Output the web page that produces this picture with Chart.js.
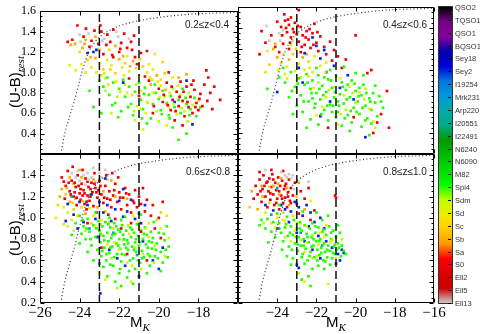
<!DOCTYPE html>
<html>
<head>
<meta charset="utf-8">
<script src="https://cdn.jsdelivr.net/npm/chart.js@4"></script>
<style>
  body { margin: 0; background: #fff; }
  #wrap { position: relative; width: 480px; height: 334px; overflow: hidden; background: #fff; }
  #wrap canvas { position: absolute; left: 0; top: 0; }
  .zlab { position: absolute; font: 10px "Liberation Sans", Arial, sans-serif; color: #222; white-space: nowrap; transform: translate(-50%, -50%); }
  .ylab { position: absolute; font: 15px "Liberation Sans", Arial, sans-serif; color: #000; white-space: nowrap; transform: translate(-50%, -50%) rotate(-90deg); }
  .xlab { position: absolute; font: 15px "Liberation Sans", Arial, sans-serif; color: #000; white-space: nowrap; transform: translateX(-50%); }
  .sub { font: italic 11px "Liberation Serif", serif; position: relative; top: 4px; }
  #cbar { position: absolute; left: 438px; top: 6px; width: 13px; height: 296px; border: 1px solid #333; }
  .cblab { position: absolute; left: 455px; font: 7.5px "Liberation Sans", Arial, sans-serif; color: #333; white-space: nowrap; transform: translateY(-50%); }
  .cbtick { position: absolute; left: 448px; width: 3px; height: 1px; background: #000; }
</style>
</head>
<body>
<div id="wrap">
  <canvas id="p1" width="480" height="334"></canvas>
  <canvas id="p2" width="480" height="334"></canvas>
  <canvas id="p3" width="480" height="334"></canvas>
  <canvas id="p4" width="480" height="334"></canvas>
  <div class="zlab" style="left:207px;top:24px">0.2≤z&lt;0.4</div>
  <div class="zlab" style="left:405px;top:24px">0.4≤z&lt;0.6</div>
  <div class="zlab" style="left:208px;top:171px">0.6≤z&lt;0.8</div>
  <div class="zlab" style="left:405px;top:171px">0.8≤z≤1.0</div>
  <div class="ylab" style="left:14px;top:82px">(U-B)<span class="sub">rest</span></div>
  <div class="ylab" style="left:14px;top:230px">(U-B)<span class="sub">rest</span></div>
  <div class="xlab" style="left:140px;top:313px">M<span class="sub">K</span></div>
  <div class="xlab" style="left:336px;top:313px">M<span class="sub">K</span></div>
  <div id="cbar"></div>
</div>
<script>
// Plantillas SED (de arriba a abajo en la barra de color)
const templates = ['QSO2','TQSO1','QSO1','BQSO1','Sey18','Sey2','I19254','Mrk231','Arp220','I20551','I22491','N6240','N6090','M82','Spi4','Sdm','Sd','Sc','Sb','Sa','S0','Ell2','Ell5','Ell13'];

// Rangos de redshift de cada panel
const zLabels = ['0.2≤z<0.4', '0.4≤z<0.6', '0.6≤z<0.8', '0.8≤z≤1.0'];

// Marcas de los ejes
const magTicks = [-26, -24, -22, -20, -18, -16];
const colorTicks = [0.2, 0.4, 0.6, 0.8, 1.0, 1.2, 1.4, 1.6];

// Cortes en magnitud (lineas discontinuas)
const cutMags = [-23, -21];

// Curva punteada (limite de seleccion)
const curveMag = [-24.95, -24.75, -24.5, -24.28, -24.05, -23.84, -23.56, -23.3, -22.97, -22.3, -21.6, -20.95, -19.3, -18.0, -16.25, -16.0];
const curveUB  = [0.2, 0.4, 0.57, 0.71, 0.88, 1.03, 1.19, 1.28, 1.35, 1.43, 1.48, 1.51, 1.555, 1.575, 1.587, 1.59];

// Galaxias: [M_K, (U-B)rest, indice de plantilla]
const z1 = [
  [-24.11,1.46,20],[-23.68,1.43,20],[-24.37,1.32,20],[-24.23,1.28,18],[-23.95,1.30,23],[-23.8,1.35,20],[-23.55,1.38,23],[-23.4,1.31,20],[-23.2,1.35,18],[-23.05,1.28,20],
  [-22.9,1.40,20],[-22.75,1.33,23],[-22.6,1.37,20],[-22.45,1.30,20],[-22.3,1.42,20],[-22.2,1.26,18],[-22.05,1.35,23],[-21.9,1.29,20],[-21.75,1.38,20],[-21.6,1.24,20],
  [-21.5,1.33,23],[-21.35,1.22,20],[-23.6,1.19,5],[-23.3,1.20,5],[-23.15,1.22,5],[-24.0,1.20,17],[-23.85,1.24,18],[-23.5,1.25,20],[-23.0,1.22,18],[-22.8,1.18,20],
  [-22.5,1.22,17],[-22.35,1.17,20],[-22.0,1.20,20],[-21.8,1.16,18],[-21.2,1.15,20],[-20.9,1.19,20],[-20.6,1.21,20],[-24.6,1.30,20],[-24.45,1.27,18],[-23.7,1.32,18],
  [-22.95,1.46,20],[-22.15,1.40,23],[-21.25,1.36,20],
  [-24.2,1.02,16],[-23.9,1.08,16],[-23.6,1.12,17],[-23.4,1.05,16],[-23.2,1.14,18],[-23.0,1.09,16],[-22.8,1.03,17],[-22.6,1.12,16],[-22.4,1.07,16],[-22.2,0.99,17],
  [-22.0,1.13,18],[-21.85,1.05,16],[-21.7,1.09,17],[-21.5,1.01,16],[-21.3,1.11,18],[-21.15,1.04,16],[-21.0,0.97,16],[-20.8,1.06,17],[-20.6,1.00,16],[-20.45,0.95,17],
  [-20.3,1.03,16],[-20.1,0.97,18],[-19.9,0.93,16],[-19.7,0.99,17],[-23.7,1.00,15],[-22.9,0.97,15],[-21.6,1.16,16],[-20.95,1.13,17],[-20.2,1.18,16],[-22.3,1.15,20],
  [-21.1,1.08,20],[-19.5,1.00,20],[-19.3,0.95,16],[-24.5,1.07,16],[-22.7,0.94,16],
  [-23.0,0.92,14],[-22.8,0.86,14],[-22.6,0.95,14],[-22.5,0.78,14],[-22.3,0.90,14],[-22.2,0.70,14],[-22.0,0.84,14],[-21.9,0.62,14],[-21.8,0.93,14],[-21.7,0.76,14],
  [-21.5,0.86,14],[-21.4,0.69,14],[-21.3,0.58,14],[-21.2,0.81,14],[-21.0,0.90,14],[-20.9,0.73,14],[-20.8,0.64,14],[-20.7,0.85,14],[-20.5,0.78,14],[-20.4,0.55,14],
  [-20.3,0.69,14],[-20.2,0.88,14],[-20.0,0.74,14],[-19.9,0.63,14],[-19.8,0.82,14],[-19.6,0.70,14],[-19.5,0.58,14],[-19.4,0.77,14],[-19.2,0.66,14],[-19.0,0.73,14],
  [-18.9,0.60,14],[-18.8,0.84,14],[-18.6,0.69,14],[-18.4,0.64,14],[-18.2,0.75,14],[-18.1,0.57,14],[-23.3,0.66,14],[-22.9,0.60,14],[-20.6,0.50,14],[-19.3,0.46,14],
  [-18.6,0.40,14],[-19.0,0.34,14],[-23.5,0.82,14],[-17.9,0.66,14],
  [-22.7,0.82,15],[-22.1,0.76,15],[-21.6,0.80,16],[-21.1,0.67,15],[-20.9,0.82,16],[-20.6,0.71,15],[-20.3,0.80,16],[-20.1,0.62,15],[-19.9,0.87,16],[-19.7,0.76,15],
  [-19.5,0.66,16],[-19.3,0.84,15],[-19.1,0.59,16],[-18.9,0.78,15],[-18.7,0.62,16],[-18.5,0.80,15],[-18.3,0.68,16],[-22.4,0.60,15],[-21.2,0.53,16],[-20.0,0.52,15],
  [-19.6,0.48,16],[-20.8,0.44,15],[-21.7,0.88,16],[-18.0,0.72,16],
  [-20.0,0.84,20],[-19.8,0.71,20],[-19.6,0.90,20],[-19.4,0.63,20],[-19.3,0.73,20],[-19.1,0.81,20],[-19.0,0.67,20],[-18.9,0.91,20],[-18.8,0.72,20],[-18.7,0.57,20],
  [-18.6,0.86,20],[-18.5,0.66,20],[-18.4,0.76,20],[-18.3,0.60,20],[-18.2,0.83,20],[-18.1,0.70,20],[-18.0,0.63,20],[-17.9,0.79,20],[-17.8,0.67,20],[-17.7,0.88,20],
  [-17.5,0.95,20],[-17.4,0.80,20],[-17.3,0.64,20],[-16.9,0.73,20],[-17.6,1.02,20],[-20.5,0.92,20],[-21.0,0.77,20],[-20.3,0.60,20],[-19.2,0.53,20],[-20.7,0.96,20],
  [-21.5,0.94,20],[-18.8,0.48,20],
  [-21.8,0.90,5],[-19.2,0.71,5],[-18.3,0.49,5],[-18.6,0.92,5],[-20.4,0.88,18],[-19.0,0.95,18],[-18.6,0.98,18],
  [-19.75,0.78,20],[-19.55,0.68,20],[-19.35,0.86,20],[-19.15,0.62,20],[-18.95,0.76,20],[-18.75,0.81,20],[-18.55,0.71,20],[-18.35,0.88,20],[-18.15,0.66,20],[-17.95,0.74,20],
  [-19.45,0.80,16],[-19.25,0.69,15],[-19.05,0.87,16],[-18.85,0.65,15],[-18.65,0.75,14],[-18.45,0.58,14],[-20.15,0.80,14],[-20.35,0.93,15],[-20.55,0.70,16],[-20.75,0.79,14],
  [-20.95,0.64,16],[-21.15,0.88,15],[-21.35,0.78,16],[-21.55,0.66,14],[-21.75,0.97,16],[-21.95,0.81,15],[-22.15,0.91,16],[-22.35,0.68,14],[-22.55,0.88,16],[-22.75,0.99,16],
  [-20.05,0.91,16],[-19.85,0.59,14],[-19.65,0.83,18],[-19.95,0.76,16],[-20.65,0.60,16],[-21.25,0.62,15],[-22.05,0.56,14],[-23.15,1.00,16],[-22.45,1.03,17],[-21.45,1.06,18],
  [-20.5,1.08,16],[-19.8,1.10,17],[-23.45,1.15,18],[-22.65,1.27,20],[-22.85,1.31,23],[-23.25,1.41,20],[-21.95,1.23,20],[-21.4,1.30,20],[-24.0,1.37,23],[-23.75,1.28,18],
  [-17.55,0.72,20],[-17.2,0.86,20],[-18.25,0.92,20],[-20.25,0.67,20],[-18.55,0.52,15],[-19.45,0.55,14],[-20.85,0.55,14]
];

const z2 = [
  [-23.64,1.53,20],[-22.9,1.57,20],[-24.0,1.46,20],[-23.8,1.41,20],[-23.6,1.47,20],[-23.5,1.36,20],[-23.4,1.43,20],[-23.3,1.31,20],[-23.2,1.39,20],[-23.1,1.45,20],
  [-23.0,1.34,20],[-22.9,1.27,20],[-22.8,1.41,20],[-22.7,1.33,20],[-22.6,1.24,20],[-22.5,1.37,20],[-22.4,1.29,20],[-22.3,1.21,20],[-22.2,1.35,20],[-22.0,1.26,20],
  [-21.9,1.18,20],[-21.8,1.32,20],[-21.6,1.22,20],[-21.5,1.15,20],[-21.3,1.27,20],[-21.1,1.19,20],[-20.9,1.13,20],[-24.3,1.33,20],[-24.6,1.26,20],[-24.1,1.22,20],
  [-23.9,1.17,20],[-23.7,1.25,20],[-23.4,1.20,20],[-22.8,1.17,20],[-20.0,1.33,20],[-22.1,1.44,20],[-23.3,1.50,20],[-24.8,1.37,20],[-21.2,1.09,20],[-20.7,1.02,20],
  [-24.4,1.28,23],[-24.55,1.42,23],[-23.9,1.35,23],[-23.2,1.28,23],[-23.7,1.38,23],
  [-24.2,1.20,18],[-24.0,1.12,18],[-23.8,1.07,17],[-23.7,1.15,16],[-23.5,1.03,16],[-23.4,1.10,18],[-23.2,1.15,17],[-23.1,0.99,16],[-22.9,1.06,16],[-22.7,1.12,18],
  [-22.6,1.00,16],[-22.4,1.08,17],[-22.2,0.98,16],[-22.1,1.13,16],[-24.4,1.05,17],[-23.6,0.96,16],[-22.8,0.93,15],[-24.1,1.25,18],[-22.5,1.15,18],[-21.8,1.04,16],
  [-21.5,1.07,16],[-23.3,1.24,17],[-24.9,1.15,20],[-24.5,1.18,16],
  [-22.2,1.31,5],[-22.0,1.23,5],[-22.6,1.16,5],[-21.8,1.11,5],[-21.5,0.98,5],[-21.1,1.04,5],[-22.9,1.02,5],[-20.4,0.95,5],[-24.0,0.79,5],[-21.8,0.56,5],
  [-19.5,0.36,5],[-20.8,0.83,5],[-21.3,0.70,5],[-22.7,0.88,5],[-20.1,0.72,5],[-21.6,1.19,5],
  [-23.9,0.93,14],[-23.6,0.88,14],[-23.3,0.98,14],[-23.1,0.84,14],[-22.9,0.92,14],[-22.8,0.76,14],[-22.6,0.86,14],[-22.5,0.96,14],[-22.4,0.70,14],[-22.3,0.82,14],
  [-22.2,0.90,14],[-22.1,0.64,14],[-22.0,0.78,14],[-21.9,0.95,14],[-21.8,0.72,14],[-21.7,0.85,14],[-21.6,0.62,14],[-21.5,0.79,14],[-21.4,0.91,14],[-21.3,0.67,14],
  [-21.2,0.83,14],[-21.1,0.74,14],[-21.0,0.94,14],[-20.9,0.60,14],[-20.8,0.77,14],[-20.7,0.88,14],[-20.6,0.68,14],[-20.5,0.81,14],[-20.4,0.57,14],[-20.3,0.74,14],
  [-20.2,0.90,14],[-20.1,0.64,14],[-20.0,0.80,14],[-19.9,0.70,14],[-19.8,0.58,14],[-19.7,0.76,14],[-19.6,0.86,14],[-19.5,0.66,14],[-19.4,0.54,14],[-19.3,0.73,14],
  [-19.2,0.62,14],[-19.0,0.69,14],[-18.9,0.56,14],[-18.8,0.75,14],[-22.7,0.60,14],[-22.3,0.53,14],[-21.9,0.48,14],[-21.4,0.52,14],[-20.7,0.47,14],[-20.2,0.50,14],
  [-19.7,0.46,14],[-19.2,0.49,14],[-23.4,0.74,14],[-23.0,0.66,14],[-22.0,1.02,14],[-21.3,1.00,14],[-20.6,1.03,14],[-20.0,0.97,14],[-19.6,0.95,14],[-21.0,0.55,14],
  [-20.3,0.42,14],[-22.5,0.45,14],[-19.0,0.85,14],[-18.6,0.64,14],[-22.2,0.73,14],[-21.6,0.93,14],[-20.9,0.70,14],[-20.4,0.86,14],[-21.2,0.60,14],[-19.8,0.83,14],
  [-23.7,1.02,14],[-24.5,0.82,14],[-19.3,0.38,14],[-23.2,0.58,14],
  [-21.9,0.88,15],[-21.5,0.74,16],[-21.1,0.84,15],[-20.8,0.92,16],[-20.6,0.76,15],[-20.3,0.84,16],[-20.0,0.69,15],[-19.8,0.79,16],[-19.5,0.82,15],[-19.3,0.63,16],
  [-20.5,0.62,15],[-21.7,0.65,16],[-22.4,0.94,16],[-23.0,0.79,15],[-22.0,0.57,16],[-19.1,0.51,15],[-20.9,0.48,16],[-23.5,0.92,16],[-24.6,0.98,15],[-19.0,0.45,16],
  [-18.4,0.80,20],[-18.3,0.45,20],[-18.9,0.50,20],[-19.2,1.00,20],[-19.4,0.97,20],[-18.7,0.58,20],[-19.1,0.40,20],[-20.1,0.55,20],[-21.4,0.45,20],[-20.5,1.10,20],
  [-23.75,1.33,20],[-23.55,1.40,20],[-23.35,1.26,20],[-23.15,1.36,20],[-22.95,1.42,20],[-22.75,1.22,20],[-22.55,1.31,20],[-22.35,1.39,20],[-22.15,1.24,20],[-21.95,1.36,20],
  [-23.45,1.48,20],[-23.85,1.28,23],[-23.05,1.20,17],[-23.95,1.00,16],[-22.35,1.02,16],
  [-22.45,0.88,14],[-22.25,0.78,14],[-22.05,0.68,14],[-21.85,0.82,14],[-21.65,0.76,14],[-21.45,0.66,14],[-21.25,0.90,14],[-21.05,0.79,14],[-20.85,0.66,14],[-20.65,0.84,14],
  [-20.45,0.72,14],[-20.25,0.61,14],[-20.05,0.87,14],[-19.85,0.75,14],[-19.65,0.64,14],[-19.45,0.78,14],[-19.25,0.70,14],[-21.75,0.58,14],[-21.15,0.66,14],[-20.55,0.54,14],
  [-19.95,0.60,14],[-22.65,0.70,14],[-22.95,0.87,14],[-23.25,0.80,14],[-20.15,0.78,15],[-20.75,0.58,16],[-21.35,0.81,15],[-22.15,0.83,16],[-19.55,0.72,15],[-21.55,0.98,16],
  [-19.1,0.78,14],[-18.7,0.70,14],[-19.5,0.52,14]
];

const z3 = [
  [-24.9,1.38,20],[-24.7,1.30,20],[-24.6,1.44,20],[-24.5,1.25,20],[-24.4,1.35,20],[-24.3,1.20,20],[-24.2,1.29,20],[-24.1,1.40,20],[-24.0,1.23,20],[-23.95,1.17,20],
  [-23.9,1.32,20],[-23.8,1.26,20],[-23.75,1.13,20],[-23.7,1.37,20],[-23.6,1.21,20],[-23.55,1.29,20],[-23.5,1.16,20],[-23.4,1.33,20],[-23.35,1.24,20],[-23.3,1.11,20],
  [-23.2,1.28,20],[-23.1,1.19,20],[-23.0,1.35,20],[-22.9,1.22,20],[-22.8,1.14,20],[-22.7,1.30,20],[-22.6,1.18,20],[-22.5,1.25,20],[-22.4,1.10,20],[-22.3,1.21,20],
  [-22.2,1.32,20],[-22.1,1.15,20],[-22.0,1.24,20],[-21.9,1.08,20],[-21.8,1.19,20],[-21.7,1.28,20],[-21.6,1.12,20],[-21.5,1.22,20],[-21.4,1.05,20],[-21.3,1.16,20],
  [-21.2,1.26,20],[-21.1,1.10,20],[-21.0,1.20,20],[-20.9,1.13,20],[-20.7,1.06,20],[-20.6,1.17,20],[-20.4,1.02,20],[-20.3,1.12,20],[-19.8,1.15,20],[-24.35,1.48,20],
  [-23.85,1.45,20],[-23.25,1.42,20],[-22.65,1.40,20],[-22.05,1.38,20],[-24.75,1.18,20],[-24.15,1.12,20],[-23.65,1.08,20],[-23.15,1.05,20],[-22.55,1.03,20],[-24.55,1.33,20],
  [-24.25,1.24,20],[-23.85,1.21,20],[-23.45,1.27,20],[-23.05,1.26,20],[-24.05,1.30,20],[-23.6,1.34,20],[-20.0,1.00,20],[-20.8,1.28,20],[-22.35,1.42,20],
  [-24.2,1.38,23],[-24.0,1.35,23],[-23.8,1.40,23],[-23.6,1.42,23],[-23.4,1.38,23],[-23.2,1.34,23],[-22.9,1.38,23],[-23.7,1.31,23],[-24.4,1.42,23],[-23.0,1.42,23],
  [-22.7,1.45,23],[-23.3,1.47,23],[-22.6,1.36,23],
  [-25.0,1.20,18],[-24.8,1.10,16],[-24.7,1.22,17],[-24.6,1.05,16],[-24.5,1.15,18],[-24.4,0.98,16],[-24.3,1.08,17],[-24.2,1.18,18],[-24.1,1.02,16],[-23.9,1.10,17],
  [-23.8,0.97,16],[-23.7,1.04,18],[-23.5,1.09,16],[-23.4,0.95,17],[-23.3,1.02,16],[-23.1,1.10,18],[-22.9,0.98,16],[-22.7,1.06,17],[-22.5,0.96,16],[-25.2,1.00,16],
  [-24.9,1.27,18],[-24.3,1.32,18],[-23.9,1.38,18],[-23.3,1.36,18],[-22.8,1.25,18],[-22.2,1.20,18],[-21.6,1.18,18],[-21.0,0.96,16],[-20.5,0.95,16],[-19.9,1.05,17],
  [-24.0,1.45,18],[-22.4,1.35,18],[-25.1,1.12,17],[-24.6,0.92,16],[-21.3,1.02,16],
  [-24.6,1.13,5],[-24.3,1.03,5],[-24.0,1.15,5],[-23.8,0.96,5],[-23.6,1.12,5],[-23.4,1.22,5],[-23.2,0.99,5],[-23.0,1.15,5],[-22.8,1.05,5],[-22.6,1.12,5],
  [-22.4,0.97,5],[-22.2,1.08,5],[-22.0,1.16,5],[-21.8,1.01,5],[-21.6,1.06,5],[-21.4,1.17,5],[-21.2,0.99,5],[-21.0,1.04,5],[-20.7,1.12,5],[-22.95,0.29,5],
  [-22.5,0.70,5],[-21.7,0.55,5],[-20.8,0.78,5],[-20.3,0.60,5],[-20.0,0.52,5],[-21.0,0.45,5],[-22.1,0.62,5],[-23.1,0.82,5],[-24.7,0.97,5],[-22.7,1.37,5],
  [-21.8,1.27,5],[-20.9,0.95,5],[-24.1,0.90,5],[-19.8,0.72,5],
  [-24.4,1.20,8],[-23.5,0.90,8],[-22.3,0.86,8],[-21.1,0.65,8],[-23.0,0.57,8],
  [-24.2,0.95,14],[-24.0,1.02,14],[-23.9,0.85,14],[-23.8,0.92,14],[-23.7,0.80,14],[-23.6,0.99,14],[-23.5,0.87,14],[-23.4,0.74,14],[-23.3,0.93,14],[-23.2,0.82,14],
  [-23.1,0.70,14],[-23.05,0.97,14],[-23.0,0.88,14],[-22.95,0.77,14],[-22.9,0.64,14],[-22.85,0.92,14],[-22.8,0.83,14],[-22.75,0.72,14],[-22.7,0.96,14],[-22.65,0.60,14],
  [-22.6,0.86,14],[-22.55,0.78,14],[-22.5,0.67,14],[-22.45,0.91,14],[-22.4,0.81,14],[-22.35,0.73,14],[-22.3,0.55,14],[-22.25,0.95,14],[-22.2,0.85,14],[-22.15,0.76,14],
  [-22.1,0.66,14],[-22.05,0.89,14],[-22.0,0.80,14],[-21.95,0.71,14],[-21.9,0.59,14],[-21.85,0.93,14],[-21.8,0.84,14],[-21.75,0.75,14],[-21.7,0.65,14],[-21.65,0.88,14],
  [-21.6,0.79,14],[-21.55,0.70,14],[-21.5,0.50,14],[-21.45,0.91,14],[-21.4,0.82,14],[-21.35,0.73,14],[-21.3,0.62,14],[-21.25,0.86,14],[-21.2,0.77,14],[-21.15,0.68,14],
  [-21.1,0.94,14],[-21.05,0.83,14],[-21.0,0.74,14],[-20.95,0.58,14],[-20.9,0.88,14],[-20.85,0.69,14],[-20.8,0.80,14],[-20.75,0.63,14],[-20.7,0.91,14],[-20.65,0.75,14],
  [-20.6,0.84,14],[-20.55,0.66,14],[-20.5,0.78,14],[-20.45,0.55,14],[-20.4,0.87,14],[-20.35,0.71,14],[-20.3,0.81,14],[-20.2,0.64,14],[-20.1,0.76,14],[-20.0,0.86,14],
  [-19.9,0.68,14],[-19.8,0.58,14],[-19.7,0.79,14],[-19.6,0.92,14],[-19.55,0.63,14],[-19.5,0.73,14],[-22.6,0.45,14],[-22.2,0.40,14],[-21.9,0.36,14],[-21.6,0.44,14],
  [-21.3,0.38,14],[-22.0,0.48,14],[-23.3,0.60,14],[-23.6,0.68,14],[-24.4,0.84,14],[-24.0,0.76,14],[-22.5,1.00,14],[-21.7,1.01,14],[-20.9,1.03,14],[-23.2,1.05,14],
  [-20.25,0.96,14],[-19.9,0.50,14],[-20.6,0.48,14],[-21.9,0.98,14],[-22.8,0.54,14],[-21.2,0.52,14],
  [-23.7,0.88,15],[-23.2,0.92,16],[-22.9,0.84,15],[-22.6,0.75,16],[-22.3,0.90,15],[-22.0,0.70,16],[-21.8,0.79,15],[-21.5,0.85,16],[-21.2,0.72,15],[-21.0,0.90,16],
  [-20.8,0.66,15],[-20.5,0.82,16],[-20.2,0.74,15],[-19.9,0.90,16],[-19.7,0.64,15],[-19.5,0.81,16],[-22.4,0.62,15],[-21.6,0.58,16],[-20.9,0.52,15],[-23.0,0.48,16],
  [-22.1,0.34,15],[-21.4,0.40,16],[-24.3,0.88,16],[-24.8,0.94,15],[-20.1,0.98,17],[-19.6,1.02,16],[-22.7,0.42,16],
  [-22.2,0.99,20],[-21.4,0.95,20],[-20.2,0.90,20],[-23.6,0.95,20],[-21.9,0.90,20],[-19.9,0.81,20],[-20.6,0.60,20],[-22.9,0.72,20],[-21.6,0.66,20],[-20.9,0.87,20],
  [-24.45,1.22,20],[-24.25,1.33,20],[-24.15,1.19,20],[-23.95,1.27,20],[-23.75,1.23,20],[-23.65,1.15,20],[-23.45,1.20,20],[-23.25,1.32,20],[-23.15,1.24,20],[-22.95,1.30,20],
  [-22.75,1.19,20],[-22.45,1.17,20],[-22.25,1.26,20],[-21.95,1.19,20],[-21.65,1.23,20],[-21.25,1.14,20],[-24.65,1.28,18],[-24.35,1.14,17],[-23.85,1.16,18],[-23.55,1.36,23],
  [-24.1,1.44,23],[-24.5,1.38,18],[-24.8,1.34,20],
  [-23.15,0.90,14],[-22.95,0.85,14],[-22.75,0.79,14],[-22.55,0.94,14],[-22.35,0.84,14],[-22.15,0.92,14],[-21.95,0.87,14],[-21.75,0.80,14],[-21.55,0.76,14],[-21.35,0.89,14],
  [-21.15,0.80,14],[-20.95,0.77,14],[-20.75,0.85,14],[-20.55,0.72,14],[-20.35,0.77,14],[-20.15,0.70,14],[-22.85,0.69,14],[-22.45,0.72,14],[-22.05,0.74,14],[-21.65,0.72,14],
  [-21.25,0.70,14],[-20.85,0.62,14],[-20.45,0.64,14],[-22.65,0.66,14],[-22.25,0.63,14],[-21.85,0.66,14],[-21.45,0.60,14],[-21.05,0.60,14],[-23.45,0.80,14],[-23.65,0.90,14],
  [-23.85,0.98,14],[-19.65,0.70,14],[-19.75,0.85,14],[-20.05,0.62,14],[-22.95,0.94,15],[-22.25,0.77,16],[-21.55,0.93,15],[-20.65,0.90,16],[-20.25,0.58,15],[-21.95,0.52,14],
  [-22.45,0.56,14],[-21.35,0.55,15]
];

const z4 = [
  [-25.1,1.30,20],[-25.0,1.22,20],[-24.9,1.36,20],[-24.8,1.15,20],[-24.75,1.27,20],[-24.7,1.40,20],[-24.6,1.20,20],[-24.55,1.33,20],[-24.5,1.10,20],[-24.45,1.25,20],
  [-24.4,1.37,20],[-24.35,1.17,20],[-24.3,1.29,20],[-24.25,1.41,20],[-24.2,1.22,20],[-24.15,1.12,20],[-24.1,1.33,20],[-24.05,1.26,20],[-24.0,1.18,20],[-23.95,1.38,20],
  [-23.9,1.08,20],[-23.85,1.30,20],[-23.8,1.21,20],[-23.75,1.35,20],[-23.7,1.14,20],[-23.65,1.27,20],[-23.6,1.19,20],[-23.55,1.32,20],[-23.5,1.10,20],[-23.45,1.24,20],
  [-23.4,1.36,20],[-23.35,1.16,20],[-23.3,1.28,20],[-23.2,1.21,20],[-23.1,1.33,20],[-23.0,1.13,20],[-22.8,1.25,20],[-22.6,1.18,20],[-22.4,1.28,20],[-22.1,1.07,20],
  [-21.0,1.19,20],[-21.05,1.21,20],[-24.9,1.43,20],[-24.3,1.45,20],[-23.7,1.44,20],[-25.2,1.18,20],[-22.9,1.04,20],[-22.3,0.98,20],
  [-23.5,1.38,23],[-23.4,1.41,23],[-23.6,1.40,23],[-23.3,1.37,23],[-23.8,1.43,23],[-24.6,1.45,23],[-22.4,1.34,23],[-23.2,1.40,23],
  [-25.0,1.08,18],[-24.8,1.30,18],[-24.6,1.05,16],[-24.4,1.14,17],[-24.2,1.30,18],[-24.0,1.00,16],[-23.9,1.22,18],[-23.7,1.05,17],[-23.6,0.97,16],[-23.4,1.12,18],
  [-23.2,1.02,16],[-23.0,1.20,17],[-22.8,0.95,16],[-22.6,1.08,18],[-22.3,1.16,16],[-25.4,1.10,17],[-24.3,0.95,16],[-23.8,1.37,18],[-22.9,1.33,18],[-22.2,0.62,16],
  [-22.6,0.40,16],[-21.4,0.38,16],[-22.9,0.48,15],[-21.0,0.62,16],[-25.3,1.25,18],
  [-24.6,1.12,5],[-24.2,1.07,5],[-23.8,1.12,5],[-23.6,1.08,5],[-23.3,1.06,5],[-23.1,1.15,5],[-22.9,1.10,5],[-22.7,1.02,5],[-22.5,1.12,5],[-22.3,1.05,5],
  [-22.1,0.96,5],[-21.8,1.00,5],[-21.6,0.90,5],[-23.4,0.96,5],[-23.0,0.86,5],[-22.6,0.78,5],[-22.2,0.70,5],[-21.8,0.62,5],[-21.2,0.72,5],[-20.9,0.66,5],
  [-20.7,0.70,5],[-20.6,0.67,5],[-21.0,0.57,5],[-23.0,0.56,5],[-22.9,0.53,5],[-21.9,0.83,5],[-24.0,0.90,5],[-22.4,0.92,5],[-21.5,0.78,5],[-20.8,0.60,5],
  [-24.3,1.03,8],[-23.9,0.90,8],[-22.8,0.86,8],[-21.7,0.74,8],[-24.0,1.28,8],
  [-24.8,0.98,14],[-24.9,0.93,14],[-24.6,0.90,14],[-24.5,0.99,14],[-24.3,0.87,14],[-24.2,0.96,14],[-24.1,0.82,14],[-24.0,1.04,14],[-23.9,0.95,14],[-23.8,0.86,14],
  [-23.7,0.78,14],[-23.6,0.91,14],[-23.5,1.01,14],[-23.45,0.83,14],[-23.4,0.73,14],[-23.3,0.92,14],[-23.2,0.84,14],[-23.15,0.98,14],[-23.1,0.76,14],[-23.0,0.90,14],
  [-22.95,0.69,14],[-22.9,0.82,14],[-22.85,0.96,14],[-22.8,0.74,14],[-22.75,0.88,14],[-22.7,0.66,14],[-22.65,0.80,14],[-22.6,0.93,14],[-22.55,0.71,14],[-22.5,0.85,14],
  [-22.45,0.60,14],[-22.4,0.77,14],[-22.35,0.90,14],[-22.3,0.68,14],[-22.25,0.82,14],[-22.2,0.95,14],[-22.15,0.74,14],[-22.1,0.63,14],[-22.05,0.86,14],[-22.0,0.78,14],
  [-21.95,0.70,14],[-21.9,0.91,14],[-21.85,0.65,14],[-21.8,0.80,14],[-21.75,0.72,14],[-21.7,0.87,14],[-21.65,0.60,14],[-21.6,0.76,14],[-21.55,0.68,14],[-21.5,0.84,14],
  [-21.45,0.63,14],[-21.4,0.74,14],[-21.35,0.92,14],[-21.3,0.69,14],[-21.25,0.80,14],[-21.2,0.62,14],[-21.15,0.88,14],[-21.1,0.73,14],[-21.05,0.66,14],[-21.0,0.82,14],
  [-20.95,0.70,14],[-20.9,0.76,14],[-20.8,0.86,14],[-20.7,0.74,14],[-20.6,0.69,14],[-20.5,0.66,14],[-22.6,0.57,14],[-22.2,0.52,14],[-21.9,0.55,14],[-23.2,0.62,14],
  [-23.5,0.64,14],[-22.4,0.45,14],[-22.75,0.42,14],[-21.7,0.98,14],[-21.3,0.56,14],[-20.9,0.93,14],[-22.0,1.05,14],[-22.7,1.06,14],[-21.4,1.02,14],[-23.3,0.56,14],
  [-23.75,0.70,14],[-24.45,0.77,14],[-22.3,0.36,14],[-21.6,0.52,14],[-23.9,1.12,14],
  [-23.6,0.82,15],[-23.1,0.88,16],[-22.8,0.79,15],[-22.5,0.92,16],[-22.2,0.84,15],[-21.9,0.75,16],[-21.6,0.82,15],[-21.3,0.77,16],[-21.0,0.70,15],[-22.6,0.68,16],
  [-23.3,0.78,15],[-24.1,0.91,16],[-24.7,0.95,15],[-22.0,0.64,15],[-21.5,0.93,16],[-20.7,0.80,15],[-23.7,0.98,16],
  [-24.65,1.30,20],[-24.5,1.34,20],[-24.35,1.23,20],[-24.2,1.36,20],[-24.05,1.14,20],[-23.9,1.25,20],[-23.75,1.18,20],[-23.6,1.30,20],[-23.45,1.20,20],[-23.3,1.14,20],
  [-24.85,1.25,20],[-24.75,1.20,18],[-24.4,1.29,17],[-23.95,1.32,18],[-23.5,1.28,18],[-23.15,1.27,23],
  [-23.05,0.82,14],[-22.85,0.90,14],[-22.65,0.74,14],[-22.45,0.82,14],[-22.25,0.73,14],[-22.05,0.92,14],[-21.85,0.78,14],[-21.65,0.89,14],[-21.45,0.70,14],[-21.25,0.86,14],
  [-21.05,0.75,14],[-20.85,0.72,14],[-22.95,0.75,14],[-22.75,0.63,14],[-22.35,0.64,14],[-21.95,0.60,14],[-21.55,0.59,14],[-21.15,0.67,14],[-23.35,0.86,14],[-23.55,0.94,14],
  [-21.75,0.67,14],[-22.15,0.80,14],[-20.75,0.64,14],[-23.25,0.70,14],[-22.5,0.77,15],[-21.8,0.86,16],[-23.0,0.95,15],[-21.2,0.79,15]
];

// Mapa de color nipy_spectral
const cmapPos = [0,0.05,0.10,0.15,0.20,0.25,0.30,0.35,0.40,0.45,0.50,0.55,0.60,0.65,0.70,0.75,0.80,0.85,0.90,0.95,1.0];
const cmapR = [0,0.4667,0.5333,0,0,0,0,0,0,0,0,0,0,0.7333,0.9333,1,1,1,0.8667,0.8,0.8];
const cmapG = [0,0,0,0,0,0.4667,0.6,0.6667,0.6667,0.6,0.7333,0.8667,1,1,0.9333,0.8,0.6,0,0,0,0.8];
const cmapB = [0,0.5333,0.6,0.6667,0.8667,0.8667,0.8667,0.6667,0.5333,0,0,0,0,0,0,0,0,0,0,0,0.8];

function cmap(t) {
  const k = Math.min(19, Math.floor(t * 20));
  const f = t * 20 - k;
  const c = [cmapR, cmapG, cmapB].map(a => Math.round(255 * (a[k] + (a[k + 1] - a[k]) * f)));
  return `rgb(${c[0]},${c[1]},${c[2]})`;
}
function templateColor(i) { return cmap(i / (templates.length - 1)); }

const fmtMinus = v => (v < 0 ? '\u2212' + Math.abs(v) : String(v));

// Marco y marcas hacia dentro, estilo matplotlib
const frameTicks = {
  id: 'frameTicks',
  afterDatasetsDraw(chart) {
    const { ctx, chartArea: a } = chart;
    const xs = chart.scales.x, ys = chart.scales.y;
    ctx.save();
    ctx.strokeStyle = '#000';
    ctx.lineWidth = 1;
    ctx.beginPath();
    const L = Math.round(a.left) + 0.5, R = Math.round(a.right) - 0.5;
    const T = Math.round(a.top) + 0.5, B = Math.round(a.bottom) - 0.5;
    ctx.rect(L, T, R - L, B - T);
    magTicks.forEach(v => {
      const px = Math.round(xs.getPixelForValue(v)) + 0.5;
      ctx.moveTo(px, B); ctx.lineTo(px, B - 4);
      ctx.moveTo(px, T); ctx.lineTo(px, T + 4);
    });
    for (let k = 4; k <= 32; k++) {
      const v = k * 0.05;
      const len = (k % 4 === 0) ? 4 : 2;
      const py = Math.round(ys.getPixelForValue(v)) + 0.5;
      ctx.moveTo(L, py); ctx.lineTo(L + len, py);
      ctx.moveTo(R, py); ctx.lineTo(R - len, py);
    }
    ctx.stroke();
    ctx.restore();
  }
};

function makePanel(id, pts, pad, showX, showY, isTop, isLeft) {
  const datasets = [{
    type: 'scatter',
    data: pts.map(p => ({ x: p[0], y: p[1] })),
    backgroundColor: pts.map(p => templateColor(p[2])),
    pointStyle: 'rect',
    pointRadius: 1.9,
    borderWidth: 0,
    order: 2
  }, {
    type: 'line',
    data: curveMag.map((m, i) => ({ x: m, y: curveUB[i] })),
    borderColor: '#333',
    borderWidth: 1.2,
    borderDash: [1, 2.5],
    pointRadius: 0,
    cubicInterpolationMode: 'monotone',
    fill: false,
    order: 1
  }];
  cutMags.forEach(m => datasets.push({
    type: 'line',
    data: [{ x: m, y: 0.2 }, { x: m, y: 1.6 }],
    borderColor: '#111',
    borderWidth: 1.5,
    borderDash: [8, 4],
    pointRadius: 0,
    fill: false,
    order: 0
  }));

  return new Chart(document.getElementById(id), {
    type: 'scatter',
    data: { datasets },
    options: {
      responsive: false,
      animation: false,
      layout: { padding: pad },
      plugins: { legend: { display: false }, tooltip: { enabled: false } },
      scales: {
        x: {
          type: 'linear', min: -26, max: -16,
          display: showX,
          afterFit: s => { s.height = showX ? 31 : 0; },
          grid: { display: false, drawTicks: false },
          border: { display: false },
          ticks: {
            stepSize: 2, autoSkip: false, maxRotation: 0, padding: 1, color: '#000',
            font: { family: 'Liberation Serif', size: 15 },
            callback: v => {
              if (isLeft && v > -18) return '';
              if (!isLeft && v < -24) return '';
              return fmtMinus(v);
            }
          }
        },
        y: {
          type: 'linear', min: 0.2, max: 1.6,
          display: showY,
          afterFit: s => { s.width = showY ? 40 : 0; },
          grid: { display: false, drawTicks: false },
          border: { display: false },
          ticks: {
            stepSize: 0.2, autoSkip: false, padding: 4, color: '#000',
            font: { family: 'Liberation Serif', size: 12 },
            callback: v => {
              if (isTop && v < 0.3) return '';
              if (!isTop && v > 1.5) return '';
              return v.toFixed(1);
            }
          }
        }
      }
    },
    plugins: [frameTicks]
  });
}

makePanel('p1', z1, { left: 0, top: 7, right: 242, bottom: 180 }, false, true, true, true);
makePanel('p2', z2, { left: 238, top: 7, right: 46, bottom: 180 }, false, false, true, false);
makePanel('p3', z3, { left: 0, top: 154, right: 242, bottom: 0 }, true, true, false, true);
makePanel('p4', z4, { left: 238, top: 154, right: 46, bottom: 0 }, true, false, false, false);

// Barra de color con las plantillas
const wrap = document.getElementById('wrap');
const cbar = document.getElementById('cbar');
cbar.style.background = 'linear-gradient(to bottom,' +
  cmapPos.map(t => `${cmap(Math.min(t, 0.9999))} ${(t * 100).toFixed(1)}%`).join(',') + ')';
const cbTop = 7, cbH = 296;
templates.forEach((name, i) => {
  const y = cbTop + cbH * i / (templates.length - 1);
  const lab = document.createElement('div');
  lab.className = 'cblab';
  lab.style.top = y + 'px';
  lab.textContent = name;
  wrap.appendChild(lab);
  const tk = document.createElement('div');
  tk.className = 'cbtick';
  tk.style.top = Math.round(y) + 'px';
  wrap.appendChild(tk);
});
</script>
</body>
</html>
